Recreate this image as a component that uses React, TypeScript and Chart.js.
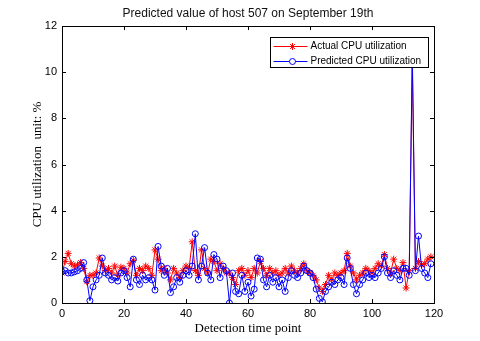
import React, { useEffect, useRef } from "react";
import { Chart, registerables } from "chart.js";

Chart.register(...registerables);

const chartTitle = "Predicted value of host 507 on September 19th";
const xTitle = "Detection time point";
const yTitle = "CPU utilization  unit: %";
const seriesNames = ["Actual CPU utilization", "Predicted CPU utilization"];

const actual = [
  1.3, 1.8, 2.15, 1.7, 1.6, 1.65, 1.75, 1.5, 0.92, 1.2,
  1.2, 1.3, 1.95, 1.6, 1.4, 1.5, 1.3, 1.6, 1.2, 1.55,
  1.5, 1.3, 1.7, 1.85, 1.2, 1.5, 1.4, 1.6, 1.5, 1.2,
  2.3, 1.9, 1.4, 1.5, 1.3, 1.0, 1.5, 1.3, 1.1, 1.4,
  1.6, 1.5, 2.65, 1.4, 1.2, 2.3, 1.5, 1.3, 1.9, 1.8,
  1.4, 1.7, 1.5, 1.3, 1.3, 1.1, 0.8, 1.4, 1.5, 1.2,
  1.4, 1.1, 1.5, 1.3, 1.8, 1.5, 1.2, 1.5, 1.3, 1.4,
  1.2, 1.3, 1.5, 1.3, 1.6, 1.4, 1.3, 1.5, 1.7, 1.4,
  1.3, 1.2, 1.0, 0.65, 0.5, 0.8, 1.2, 1.0, 1.3, 1.2,
  1.3, 1.4, 2.15, 1.6, 1.3, 1.0, 1.2, 1.3, 1.5, 1.4,
  1.3, 1.5, 1.7, 1.6, 2.1, 1.5, 1.3, 1.9, 1.5, 1.4,
  1.75, 0.65, 1.4, 10.4, 1.5, 1.8, 1.65, 1.7, 1.9, 2.0,
];

const predicted = [
  1.35, 1.4, 1.3, 1.3, 1.35, 1.4, 1.5, 1.75, 1.0, 0.1,
  0.7, 1.0, 1.2, 1.95, 1.3, 1.2, 1.0, 1.1, 0.95, 1.3,
  1.4, 1.1, 0.7, 1.9, 1.0, 0.8, 1.2, 1.0, 1.1, 1.0,
  0.56, 2.45, 1.6, 1.2, 1.5, 0.45, 0.7, 1.1, 0.9, 1.2,
  1.4, 1.2, 1.6, 3.0, 1.0, 1.6, 2.4, 1.3, 1.0, 2.1,
  1.9, 1.1, 1.6, 1.4, 0.0, 1.3, 0.5, 0.4, 1.2, 0.5,
  0.9, 0.3, 0.6, 1.95, 1.9, 1.0, 0.7, 1.2, 0.9, 1.1,
  0.7, 1.0, 0.5, 1.1, 1.4, 1.2, 1.1, 1.3, 1.6, 1.4,
  1.3, 1.1, 0.6, 0.2, 0.05, 0.5, 0.7, 0.9, 0.8, 1.0,
  1.1, 0.8, 1.95, 1.5, 0.8, 0.4, 0.8, 1.0, 1.3, 1.1,
  1.2, 1.1, 1.3, 1.5, 2.0, 1.3, 1.1, 1.4, 1.2, 1.0,
  1.5, 1.5, 1.2, 10.8, 1.4, 2.9, 1.5, 1.3, 1.1, 1.7,
];

const timePoints = actual.map((_, i) => i);

const xTicks = [0, 20, 40, 60, 80, 100, 120];
const yTicks = [0, 2, 4, 6, 8, 10, 12];

const RED = "#ff0000";
const BLUE = "#0000ff";

function drawStar(ctx: CanvasRenderingContext2D, x: number, y: number, r: number) {
  ctx.beginPath();
  ctx.moveTo(x - r, y);
  ctx.lineTo(x + r, y);
  ctx.moveTo(x, y - r);
  ctx.lineTo(x, y + r);
  const d = r * 0.7071;
  ctx.moveTo(x - d, y - d);
  ctx.lineTo(x + d, y + d);
  ctx.moveTo(x - d, y + d);
  ctx.lineTo(x + d, y - d);
  ctx.stroke();
}

const framePlugin = {
  id: "matlabFrame",
  afterDraw(chart: any) {
    const { ctx, chartArea } = chart;
    const { left, right, top, bottom } = chartArea;
    const xs = chart.scales.x;
    const ys = chart.scales.y;
    ctx.save();
    // Title centered over plot area
    ctx.fillStyle = "#111";
    ctx.font = "12px 'Liberation Sans', Arial, sans-serif";
    ctx.textAlign = "center";
    ctx.textBaseline = "middle";
    ctx.fillText(chartTitle, (left + right) / 2, 14);

    // Box
    ctx.strokeStyle = "#000";
    ctx.lineWidth = 1;
    ctx.strokeRect(Math.round(left) + 0.5, Math.round(top) + 0.5, Math.round(right - left), Math.round(bottom - top));
    // Inward ticks
    const tl = 4;
    ctx.beginPath();
    xTicks.forEach((v) => {
      const px = Math.round(xs.getPixelForValue(v)) + 0.5;
      ctx.moveTo(px, bottom);
      ctx.lineTo(px, bottom - tl);
      ctx.moveTo(px, top);
      ctx.lineTo(px, top + tl);
    });
    yTicks.forEach((v) => {
      const py = Math.round(ys.getPixelForValue(v)) + 0.5;
      ctx.moveTo(left, py);
      ctx.lineTo(left + tl, py);
      ctx.moveTo(right, py);
      ctx.lineTo(right - tl, py);
    });
    ctx.stroke();

    // Legend box (top right inside plot)
    const bw = 158;
    const bh = 30;
    const bx = Math.round(right - 6 - bw) + 0.5;
    const by = Math.round(top + 11) + 0.5;
    ctx.fillStyle = "#fff";
    ctx.fillRect(bx, by, bw, bh);
    ctx.strokeStyle = "#000";
    ctx.strokeRect(bx, by, bw, bh);
    ctx.font = "10px 'Liberation Sans', Arial, sans-serif";
    ctx.textAlign = "left";
    ctx.textBaseline = "middle";
    const rows = [
      { label: seriesNames[0], color: RED, marker: "star" },
      { label: seriesNames[1], color: BLUE, marker: "circle" },
    ];
    rows.forEach((r, i) => {
      const cy = Math.round(by + 8.5 + i * 14.5) + 0.5;
      ctx.strokeStyle = r.color;
      ctx.lineWidth = 1;
      ctx.beginPath();
      ctx.moveTo(bx + 3, cy);
      ctx.lineTo(bx + 37, cy);
      ctx.stroke();
      if (r.marker === "star") drawStar(ctx, bx + 22, cy, 3.5);
      else {
        ctx.beginPath();
        ctx.arc(bx + 22, cy, 3, 0, Math.PI * 2);
        ctx.fillStyle = "#fff";
        ctx.fill();
        ctx.stroke();
      }
      ctx.fillStyle = "#000";
      ctx.fillText(r.label, bx + 40, cy);
    });
    ctx.restore();
  },
};

export default function App() {
  const ref = useRef<HTMLCanvasElement>(null);
  useEffect(() => {
    document.body.style.margin = "0";
    const canvas = ref.current!;
    const chart = new Chart(canvas, {
      type: "line",
      data: {
        datasets: [
          {
            label: seriesNames[0],
            data: timePoints.map((t, i) => ({ x: t, y: actual[i] })),
            borderColor: RED,
            borderWidth: 1,
            pointStyle: "star",
            pointRadius: 3.5,
            pointBorderColor: RED,
            pointBorderWidth: 1,
            pointBackgroundColor: "rgba(0,0,0,0)",
            tension: 0,
            order: 2,
          },
          {
            label: seriesNames[1],
            data: timePoints.map((t, i) => ({ x: t, y: predicted[i] })),
            borderColor: BLUE,
            borderWidth: 1,
            pointStyle: "circle",
            pointRadius: 3,
            pointBorderColor: BLUE,
            pointBorderWidth: 1,
            pointBackgroundColor: "rgba(0,0,0,0)",
            tension: 0,
            order: 1,
          },
        ],
      },
      options: {
        responsive: false,
        animation: false,
        layout: { padding: { left: 0, right: 46, top: 26, bottom: 0 } },
        plugins: {
          legend: { display: false },
          title: { display: false },
          tooltip: { enabled: false },
        },
        scales: {
          x: {
            type: "linear",
            min: 0,
            max: 120,
            afterFit: (s: any) => {
              s.height = 38;
            },
            afterBuildTicks: (s: any) => {
              s.ticks = xTicks.map((v) => ({ value: v }));
            },
            grid: { display: false, drawTicks: false },
            border: { display: false },
            ticks: {
              padding: 4,
              color: "#000",
              font: { family: "'Liberation Sans', Arial, sans-serif", size: 11 },
              maxRotation: 0,
            },
            title: {
              display: true,
              text: xTitle,
              color: "#000",
              font: { family: "'Liberation Serif', 'Times New Roman', serif", size: 13 },
              padding: { top: 0, bottom: 5 },
            },
          },
          y: {
            type: "linear",
            min: 0,
            max: 12,
            afterFit: (s: any) => {
              s.width = 62;
            },
            afterBuildTicks: (s: any) => {
              s.ticks = yTicks.map((v) => ({ value: v }));
            },
            grid: { display: false, drawTicks: false },
            border: { display: false },
            ticks: {
              padding: 5,
              color: "#000",
              font: { family: "'Liberation Sans', Arial, sans-serif", size: 11 },
            },
            title: {
              display: true,
              text: yTitle,
              color: "#000",
              font: { family: "'Liberation Serif', 'Times New Roman', serif", size: 13 },
              padding: { top: 30, bottom: 0 },
            },
          },
        },
      },
      plugins: [framePlugin],
    });
    return () => chart.destroy();
  }, []);
  return <canvas ref={ref} width={480} height={341} style={{ display: "block" }} />;
}
